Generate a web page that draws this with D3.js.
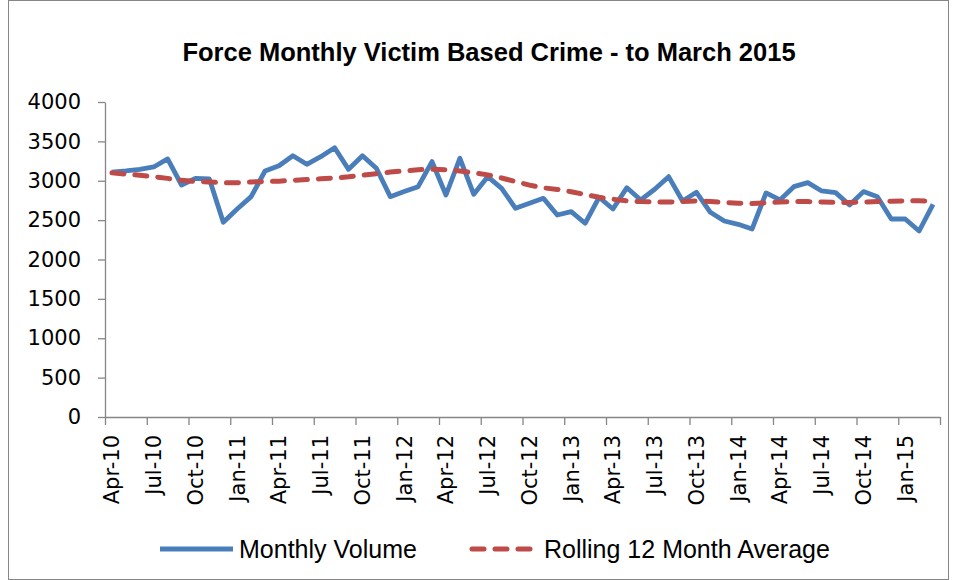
<!DOCTYPE html>
<html>
<head>
<meta charset="utf-8">
<script src="https://cdnjs.cloudflare.com/ajax/libs/d3/7.8.5/d3.min.js"></script>
<style>
  body { margin: 0; background: #fff; }
  svg { display: block; }
</style>
</head>
<body>
<div id="chart"></div>
<script>
var months = ["Apr-10","May-10","Jun-10","Jul-10","Aug-10","Sep-10","Oct-10","Nov-10","Dec-10","Jan-11","Feb-11","Mar-11",
              "Apr-11","May-11","Jun-11","Jul-11","Aug-11","Sep-11","Oct-11","Nov-11","Dec-11","Jan-12","Feb-12","Mar-12",
              "Apr-12","May-12","Jun-12","Jul-12","Aug-12","Sep-12","Oct-12","Nov-12","Dec-12","Jan-13","Feb-13","Mar-13",
              "Apr-13","May-13","Jun-13","Jul-13","Aug-13","Sep-13","Oct-13","Nov-13","Dec-13","Jan-14","Feb-14","Mar-14",
              "Apr-14","May-14","Jun-14","Jul-14","Aug-14","Sep-14","Oct-14","Nov-14","Dec-14","Jan-15","Feb-15","Mar-15"];

var monthlyVolume = [3110, 3125, 3145, 3175, 3277, 2946, 3031, 3022, 2472, 2641, 2798, 3124,
                     3191, 3318, 3209, 3306, 3420, 3145, 3318, 3158, 2798, 2862, 2925, 3243,
                     2819, 3285, 2828, 3052, 2904, 2650, 2714, 2777, 2565, 2607, 2460, 2790,
                     2641, 2912, 2756, 2892, 3052, 2743, 2853, 2599, 2489, 2447, 2388, 2845,
                     2756, 2925, 2976, 2870, 2849, 2692, 2862, 2798, 2514, 2514, 2362, 2701];

var rollingAvg = [3100, 3085, 3070, 3052, 3030, 3005, 2990, 2985, 2975, 2975, 2985, 2990,
                  2995, 3005, 3015, 3025, 3035, 3050, 3070, 3090, 3110, 3125, 3140, 3145,
                  3140, 3125, 3100, 3075, 3035, 2990, 2945, 2910, 2890, 2860, 2825, 2790,
                  2765, 2745, 2735, 2730, 2730, 2735, 2745, 2735, 2725, 2715, 2710, 2720,
                  2730, 2735, 2735, 2730, 2725, 2725, 2730, 2735, 2740, 2745, 2745, 2740];

var tickLabels = ["Apr-10","Jul-10","Oct-10","Jan-11","Apr-11","Jul-11","Oct-11","Jan-12","Apr-12","Jul-12",
                  "Oct-12","Jan-13","Apr-13","Jul-13","Oct-13","Jan-14","Apr-14","Jul-14","Oct-14","Jan-15"];

var yTicks = [0, 500, 1000, 1500, 2000, 2500, 3000, 3500, 4000];

var seriesNames = ["Monthly Volume", "Rolling 12 Month Average"];

var w = 958, h = 580;
var plotLeft = 105, plotRight = 940, plotTop = 102, plotBottom = 417;
var axisColor = "#868686";
var blue = "#4a7ebb", red = "#be4b48";

var svg = d3.select("#chart").append("svg")
    .attr("width", w)
    .attr("height", h);

// outer chart border
svg.append("rect")
    .attr("x", 8.5).attr("y", 0.5)
    .attr("width", 940).attr("height", 579)
    .attr("fill", "none")
    .attr("stroke", axisColor)
    .attr("stroke-width", 1);

svg.append("text")
    .attr("x", 489).attr("y", 61)
    .attr("text-anchor", "middle")
    .attr("font-family", "Liberation Sans, Arial, sans-serif")
    .attr("font-weight", "bold")
    .attr("font-size", 25.5)
    .text("Force Monthly Victim Based Crime - to March 2015");

var xScale = d3.scaleBand()
    .domain(months)
    .range([plotLeft, plotRight]);

// month index scale, used for tick marks between months
var xEdge = d3.scaleLinear()
    .domain([0, months.length])
    .range([plotLeft, plotRight]);

var yScale = d3.scaleLinear()
    .domain([0, 4000])
    .range([plotBottom, plotTop]);

// y axis
var yAxis = svg.append("g")
    .attr("transform", "translate(" + plotLeft + ",0)")
    .call(d3.axisLeft(yScale).tickValues(yTicks).tickFormat(d3.format("d"))
        .tickSize(7).tickSizeOuter(0).tickPadding(17));
yAxis.selectAll("text")
    .attr("font-family", "DejaVu Sans, sans-serif")
    .attr("font-size", 21)
    .attr("fill", "#000");

// x axis tick marks at month boundaries
var edgeTicks = d3.range(0, months.length + 1, 3);
svg.append("g")
    .attr("transform", "translate(0," + plotBottom + ")")
    .call(d3.axisBottom(xEdge).tickValues(edgeTicks).tickSize(8).tickSizeOuter(0).tickFormat(""));

// x axis labels at the middle of the month
var xLabelAxis = svg.append("g")
    .attr("transform", "translate(0," + plotBottom + ")")
    .call(d3.axisBottom(xScale).tickValues(tickLabels).tickSize(0).tickPadding(0));
xLabelAxis.select(".domain").remove();
xLabelAxis.selectAll("text")
    .attr("font-family", "DejaVu Sans, sans-serif")
    .attr("font-size", 21)
    .attr("fill", "#000")
    .attr("text-anchor", "end")
    .attr("transform", "rotate(-90)")
    .attr("x", -18)
    .attr("y", 0)
    .attr("dy", "0.35em");

svg.selectAll(".domain, .tick line")
    .attr("stroke", axisColor)
    .attr("stroke-width", 1.3);

var line = d3.line()
    .x(function(d, i){ return xScale(months[i]) + xScale.bandwidth() / 2; })
    .y(function(d){ return yScale(d); });

svg.append("path")
    .datum(monthlyVolume)
    .attr("d", line)
    .attr("fill", "none")
    .attr("stroke", blue)
    .attr("stroke-width", 4.8)
    .attr("stroke-linejoin", "round");

svg.append("path")
    .datum(rollingAvg)
    .attr("d", line)
    .attr("fill", "none")
    .attr("stroke", red)
    .attr("stroke-width", 5)
    .attr("stroke-linecap", "round")
    .attr("stroke-dasharray", "12,11");

// legend
var legend = svg.append("g");
var legendItems = [
    {name: seriesNames[0], color: blue, x0: 160, x1: 233, dash: null},
    {name: seriesNames[1], color: red, x0: 470, x1: 538, dash: "12,11"}
];
legendItems.forEach(function(d){
    legend.append("line")
        .attr("x1", d.x0 + (d.dash ? 2 : 0)).attr("x2", d.x1 - (d.dash ? 2 : 0))
        .attr("y1", 549).attr("y2", 549)
        .attr("stroke", d.color)
        .attr("stroke-width", d.dash ? 5 : 4.8)
        .attr("stroke-linecap", d.dash ? "round" : "butt")
        .attr("stroke-dasharray", d.dash);
    legend.append("text")
        .attr("x", d.x1 + 6).attr("y", 558)
        .attr("font-family", "Liberation Sans, Arial, sans-serif")
        .attr("font-size", 25)
        .attr("fill", "#000")
        .text(d.name);
});
</script>
</body>
</html>
